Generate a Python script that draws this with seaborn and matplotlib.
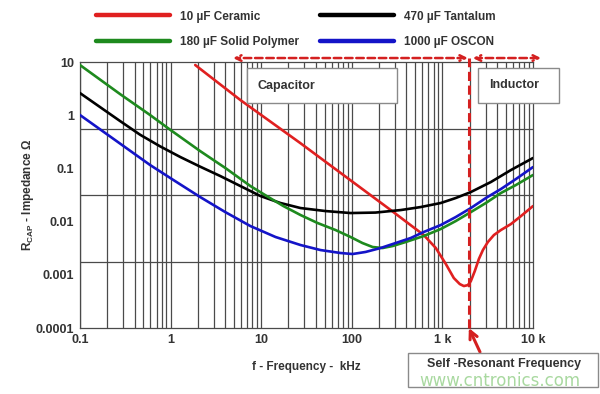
import numpy as np
import pandas as pd
import seaborn as sns
import matplotlib.pyplot as plt
from matplotlib.patches import Rectangle

# impedance curves (f in kHz, Z in ohm)
ceramic_f = [1.87, 5.9, 27, 269, 622, 845, 1091, 1337, 1556, 1726, 1910, 2061, 2281, 2527,
             2800, 3178, 3705, 4426, 5710, 7362, 10000]
ceramic_z = [8.8, 1.93, 0.30, 0.0165, 0.0056, 0.0032, 0.0016, 0.00087, 0.00067, 0.000615,
             0.00064, 0.00076, 0.00118, 0.00198, 0.00292, 0.00414, 0.0056, 0.00695, 0.0090,
             0.0127, 0.0196]

tantalum_f = [0.1, 0.166, 0.277, 0.461, 0.767, 1.28, 2.12, 3.54, 5.89, 9.8, 16.3, 27.2, 51.3,
              97, 183, 347, 577, 960, 1406, 2061, 3428, 5710, 10000]
tantalum_z = [2.61, 1.43, 0.778, 0.43, 0.26, 0.164, 0.108, 0.0719, 0.0467, 0.0303, 0.0224,
              0.0180, 0.0158, 0.0145, 0.0148, 0.0165, 0.0188, 0.0224, 0.0278, 0.0360, 0.0555,
              0.0933, 0.157]

polymer_f = [0.1, 0.277, 0.594, 1.0, 2.12, 4.02, 7.6, 12.0, 17.6, 27.2, 41.9, 66.2, 97, 131,
             170, 219, 283, 394, 622, 960, 1406, 2061, 3020, 4426, 6486, 10000]
polymer_z = [8.79, 2.50, 1.01, 0.527, 0.212, 0.102, 0.0467, 0.0290, 0.0196, 0.0133, 0.00942,
             0.00695, 0.00514, 0.00396, 0.00333, 0.00319, 0.00348, 0.00414, 0.00536, 0.00726,
             0.01026, 0.0151, 0.0224, 0.0345, 0.0488, 0.0752]

oscon_f = [0.1, 0.244, 0.594, 1.12, 2.12, 4.02, 7.6, 14.4, 27.2, 45.2, 75.2, 102, 142, 208,
           305, 447, 622, 960, 1406, 2061, 3020, 4426, 6486, 10000]
oscon_z = [1.01, 0.342, 0.116, 0.0579, 0.0290, 0.0151, 0.00826, 0.00514, 0.00363, 0.00292,
           0.00257, 0.00246, 0.00269, 0.00319, 0.00396, 0.00492, 0.00638, 0.00863, 0.0122,
           0.0180, 0.0278, 0.0410, 0.0632, 0.106]

names = ['10 \u00b5F Ceramic', '470 \u00b5F Tantalum', '180 \u00b5F Solid Polymer', '1000 \u00b5F OSCON']
colors = ['#e02020', '#000000', '#1e8a1e', '#1414c8']
srf_khz = 1960

x_ticks = [0.1, 1, 10, 100, 1000, 10000]
x_ticklabels = ['0.1', '1', '10', '100', '1 k', '10 k']
y_ticks = [10, 1, 0.1, 0.01, 0.001, 0.0001]
y_ticklabels = ['10', '1', '0.1', '0.01', '0.001', '0.0001']

frames = []
for name, f, z in zip(names, [ceramic_f, tantalum_f, polymer_f, oscon_f],
                      [ceramic_z, tantalum_z, polymer_z, oscon_z]):
    frames.append(pd.DataFrame({'f': f, 'z': z, 'cap': name}))
df = pd.concat(frames, ignore_index=True)

sns.set_style('white')
plt.rcParams['font.family'] = ['Liberation Sans', 'DejaVu Sans']

fig = plt.figure(figsize=(6, 3.94), dpi=100)
ax = fig.add_axes([0.1333, 0.1675, 0.755, 0.675])
ax.set_xscale('log')
ax.set_yscale('log')
ax.set_xlim(0.1, 10000)
ax.set_ylim(0.0001, 10)

# grid: every log line vertically, odd 4-step grid horizontally as in the original
grid_c = '#4a4a4a'
for dec in [0.1, 1, 10, 100, 1000]:
    for m in range(1, 10):
        ax.axvline(dec * m, color=grid_c, lw=0.9, zorder=0)
for k in range(1, 4):
    ax.axhline(10 ** (1 - 1.25 * k), color=grid_c, lw=0.9, zorder=0)
for s in ax.spines.values():
    s.set_color(grid_c)
    s.set_linewidth(0.9)

sns.lineplot(data=df, x='f', y='z', hue='cap', hue_order=names, palette=colors,
             sort=False, estimator=None, lw=1.9, ax=ax, legend=False, zorder=3)

ax.set_xticks(x_ticks)
ax.set_xticklabels(x_ticklabels)
ax.set_yticks(y_ticks)
ax.set_yticklabels(y_ticklabels)
ax.minorticks_off()
ax.tick_params(length=0, labelsize=9, colors='#333333', pad=4)
for t in ax.get_xticklabels() + ax.get_yticklabels():
    t.set_fontweight('bold')

ax.set_xlabel('f - Frequency -  kHz', fontsize=8.5, fontweight='bold', color='#333333', labelpad=11)
ax.set_ylabel('R$_\\mathregular{CAP}$ - Impedance \u03a9', fontsize=8.5, fontweight='bold',
              color='#333333', labelpad=0)

# legend drawn from the plotted lines
handles = ax.get_lines()[-4:]
order = [0, 2, 1, 3]
leg = fig.legend([handles[i] for i in order], [names[i] for i in order], ncol=2,
                 loc='upper left', bbox_to_anchor=(0.143, 1.0), frameon=False,
                 handlelength=6.2, handletextpad=0.9, columnspacing=1.8,
                 labelspacing=1.15, prop={'size': 8.5, 'weight': 'bold'})
for line in leg.get_lines():
    line.set_linewidth(3.2)
for t in leg.get_texts():
    t.set_color('#333333')

red = '#d42020'
# self-resonant frequency marker
ax.plot([srf_khz, srf_khz], [0.0001, 11.9], color=red, lw=2.2, ls=(0, (3, 1.5)),
        clip_on=False, zorder=4)
ax.annotate('', xy=(4.9, 11.9), xytext=(1910, 11.9), xycoords='data',
            arrowprops=dict(arrowstyle='<->', color=red, lw=1.8, ls=(0, (3, 1.5)),
                            shrinkA=0, shrinkB=0), annotation_clip=False)
ax.annotate('', xy=(2170, 11.9), xytext=(12250, 11.9), xycoords='data',
            arrowprops=dict(arrowstyle='<->', color=red, lw=1.8, ls=(0, (3, 1.5)),
                            shrinkA=0, shrinkB=0), annotation_clip=False)

def px_box(x0, y0, x1, y1, label, tx, ty, size=9):
    fig.patches.append(Rectangle((x0 / 600, 1 - y1 / 394), (x1 - x0) / 600, (y1 - y0) / 394,
                                 transform=fig.transFigure, facecolor='white',
                                 edgecolor='#8a8a8a', lw=1.0, zorder=5))
    fig.text(tx / 600, 1 - ty / 394, label, fontsize=size, fontweight='bold',
             color='#333333', va='center', ha='left', zorder=6)

px_box(247, 68, 397, 103, 'Capacitor', 257, 86)
px_box(478, 68, 559, 103, 'Inductor', 489, 85)
px_box(408, 353, 598, 387, 'Self -Resonant Frequency', 427, 364)

ax.annotate('', xy=(srf_khz, 0.0001), xytext=(480 / 600, 1 - 352 / 394),
            textcoords='figure fraction',
            arrowprops=dict(arrowstyle='->', color=red, lw=2.2, shrinkA=0, shrinkB=0,
                            mutation_scale=14), annotation_clip=False)

fig.text(500 / 600, 1 - 381 / 394, 'www.cntronics.com', fontsize=12, color='#a9d9a0',
         ha='center', va='center', family='DejaVu Sans', zorder=7)

fig.savefig('out.png', dpi=100)
